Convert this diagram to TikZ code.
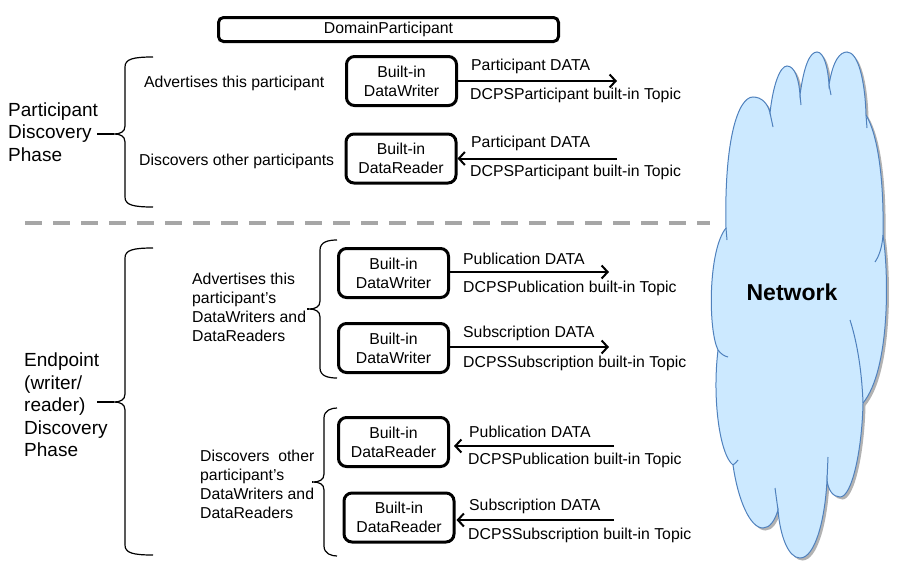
\documentclass[tikz,border=0pt]{standalone}
\usepackage{fontspec}
\setmainfont{Liberation Sans}
\usetikzlibrary{arrows.meta,shadows,calc}
\definecolor{cloudfill}{RGB}{204,233,255}
\definecolor{cloudline}{RGB}{79,129,189}
\definecolor{dashgray}{RGB}{166,166,166}
\newcommand\mybrace[6]{% #1 x vertical, #2 x arm ends, #3 y top, #4 y bottom, #5 y tip, #6 x tip end
  \draw[brc] (#2,#3) .. controls ({#1+8},#3) and (#1,{#3+2}) .. (#1,{#3+10})
    -- (#1,{#5-8}) .. controls (#1,{#5-2}) and ({#1-5},#5) .. ({#1-11},#5)
    .. controls ({#1-5},#5) and (#1,{#5+2}) .. (#1,{#5+8})
    -- (#1,{#4-10}) .. controls (#1,{#4-2}) and ({#1+8},#4) .. (#2,#4);
  \draw[brc] ({#1-11},#5) -- (#6,#5);}
\begin{document}
\begin{tikzpicture}[x=1pt,y=-1pt,
  box/.style={draw, line width=3pt, rounded corners=8pt, minimum width=110pt, minimum height=49pt,
    align=center, inner sep=0pt, font=\fontsize{15.8}{19}\selectfont},
  lbl/.style={anchor=west, inner sep=0pt, yshift=-1.5pt, font=\fontsize{15.8}{19}\selectfont},
  mlbl/.style={lbl, align=left, yshift=1.5pt},
  big/.style={anchor=west, inner sep=0pt, align=left, font=\fontsize{19}{22.5}\selectfont},
  arr/.style={line width=2pt, -{Straight Barb[length=6pt,width=13pt]}},
  brc/.style={line width=1.2pt},
]
\useasboundingbox (0,0) rectangle (909,581);

% top box
\node[draw, line width=3pt, rounded corners=5pt, minimum width=340pt, minimum height=24pt, inner sep=0pt,
  font=\fontsize{15.8}{19}\selectfont] (dp) at (388.5,29.5) {DomainParticipant};

% participant discovery
\node[big] (pdp) at (8,132) {Participant\\Discovery\\Phase};
\mybrace{125}{153}{57}{207}{134}{97}
\node[lbl] (adv1) at (144,82) {Advertises this participant};
\node[lbl] (dis1) at (139,160) {Discovers other participants};
\node[box] (w1) at (401.5,81) {Built-in\\DataWriter};
\node[box] (r1) at (401,158.5) {Built-in\\DataReader};
\coordinate (a1) at (617,81);
\coordinate (a2) at (617,158.5);
\draw[arr] (w1.east) -- (a1);
\draw[arr] (a2) -- (r1.east);
\node[lbl] (l1a) at (471,65) {Participant DATA};
\node[lbl] (l1b) at (470,94) {DCPSParticipant built-in Topic};
\node[lbl] (l2a) at (471,142) {Participant DATA};
\node[lbl] (l2b) at (470,171) {DCPSParticipant built-in Topic};

% separator
\draw[dashgray, line width=4pt, dash pattern=on 17pt off 11pt] (25,223) -- (710,223);

% endpoint discovery
\node[big] (edp) at (24,405) {Endpoint\\(writer/\\reader)\\Discovery\\Phase};
\mybrace{125}{153}{248}{555}{402}{97}
\mybrace{320}{337}{240}{378}{309}{307}
\mybrace{324}{337}{408}{556}{482}{312}
\node[mlbl] (adv2) at (192,307) {Advertises this\\participant’s\\DataWriters and\\DataReaders};
\node[mlbl] (dis2) at (200,484) {Discovers~~other\\participant’s\\DataWriters and\\DataReaders};

\node[box] (w2) at (393.5,273) {Built-in\\DataWriter};
\node[box] (w3) at (393.5,348) {Built-in\\DataWriter};
\node[box] (r2) at (393.5,442) {Built-in\\DataReader};
\node[box] (r3) at (399,517.5) {Built-in\\DataReader};
\coordinate (a3) at (609,272);
\coordinate (a4) at (609,347);
\coordinate (a5) at (614,446);
\coordinate (a6) at (614,520);
\draw[arr] (w2.east |- a3) -- (a3);
\draw[arr] (w3.east |- a4) -- (a4);
\draw[arr, shorten >=4pt] (a5) -- (r2.east |- a5);
\draw[arr, shorten >=1pt] (a6) -- (r3.east |- a6);
\node[lbl] (l3a) at (463,257) {Publication DATA};
\node[lbl] (l3b) at (463,287) {DCPSPublication built-in Topic};
\node[lbl] (l4a) at (463,332) {Subscription DATA};
\node[lbl] (l4b) at (463,362) {DCPSSubscription built-in Topic};
\node[lbl] (l5a) at (469,430) {Publication DATA};
\node[lbl] (l5b) at (468,459) {DCPSPublication built-in Topic};
\node[lbl] (l6a) at (469,505) {Subscription DATA};
\node[lbl] (l6b) at (468,534) {DCPSSubscription built-in Topic};

% cloud
\path[fill=cloudfill, draw=cloudline, line width=1pt,
  drop shadow={shadow xshift=2.5pt, shadow yshift=-2.5pt, opacity=0.3, fill=black}]
  (726,228) .. controls (724,140) and (738,97) .. (753,97)
  .. controls (762,97) and (768,104) .. (770,113)
  .. controls (773,85) and (780,66) .. (787,66)
  .. controls (795,66) and (799,80) .. (800,95)
  .. controls (804,65) and (810,52) .. (817,52)
  .. controls (824,52) and (828,68) .. (829,85)
  .. controls (833,60) and (840,52) .. (847,52)
  .. controls (858,52) and (865,80) .. (866,115)
  .. controls (878,135) and (884,180) .. (883,235)
  .. controls (889,275) and (890,370) .. (863,403)
  .. controls (862,450) and (852,497) .. (840,497)
  .. controls (833,497) and (828,490) .. (827,480)
  .. controls (825,520) and (815,558) .. (800,558)
  .. controls (788,558) and (780,535) .. (778,510)
  .. controls (775,520) and (770,528) .. (763,528)
  .. controls (750,528) and (738,500) .. (733,465)
  .. controls (720,455) and (712,400) .. (718,350)
  .. controls (708,330) and (708,250) .. (726,228) -- cycle;
\begin{scope}[draw=cloudline, line width=1pt]
  \draw (726,228) -- (727,240);
  \draw (770,113) -- (773,127);
  \draw (800,95) -- (801,105);
  \draw (829,85) -- (831,95);
  \draw (866,115) -- (867,128);
  \draw (883,235) .. controls (882,248) and (879,256) .. (875,262);
  \draw (850,320) .. controls (858,345) and (862,375) .. (863,403);
  \draw (827,480) -- (828,457);
  \draw (778,510) -- (775,488);
  \draw (733,465) .. controls (735,463) and (737,462) .. (738,460);
  \draw (718,350) .. controls (721,354) and (724,356) .. (728,357);
\end{scope}
\node[font=\fontsize{23}{27}\selectfont\bfseries] (net) at (792,292) {Network};
\end{tikzpicture}
\end{document}
